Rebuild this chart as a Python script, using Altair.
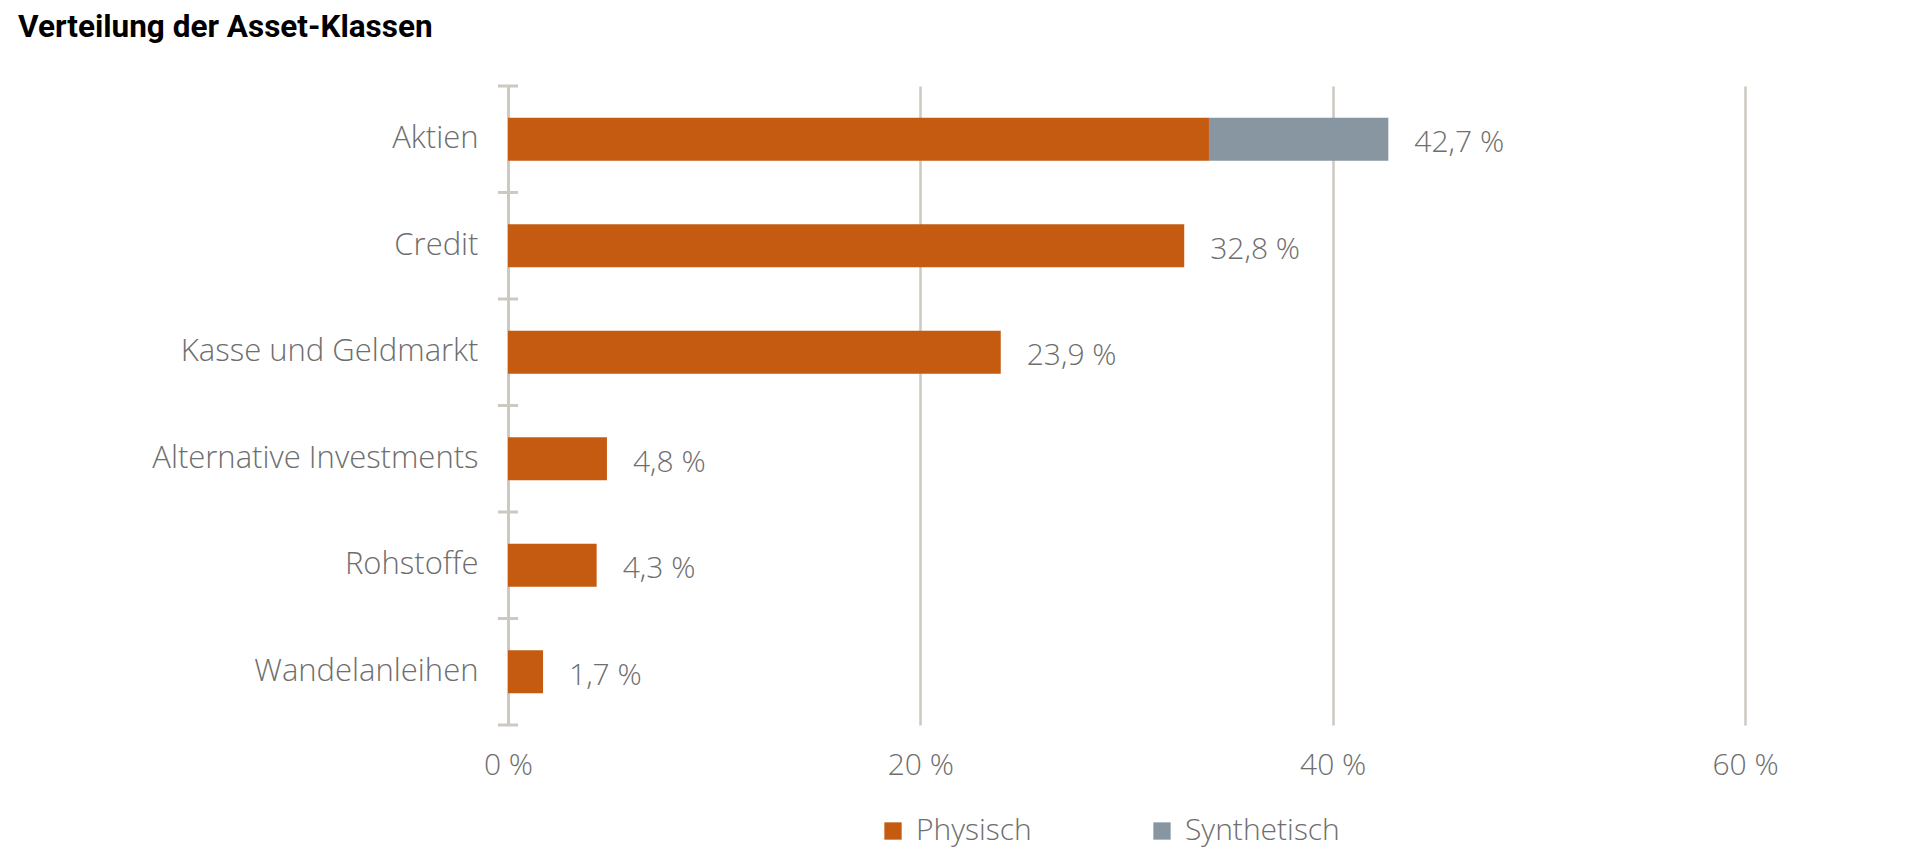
import altair as alt
import pandas as pd

# Asset classes, top to bottom
categories = [
    "Aktien",
    "Credit",
    "Kasse und Geldmarkt",
    "Alternative Investments",
    "Rohstoffe",
    "Wandelanleihen",
]
# Share of the portfolio in percent
physisch = [34.0, 32.8, 23.9, 4.8, 4.3, 1.7]
synthetisch = [8.7, 0.0, 0.0, 0.0, 0.0, 0.0]
series = ["Physisch", "Synthetisch"]
x_ticks = [0, 20, 40, 60]

ORANGE = "#C55A11"
SLATE = "#8796A0"
RULE = "#CDC8C0"
TEXT = "#6E6E6E"
FONT = "Open Sans"
TITLE_FONT = "Roboto"

rows = []
for i, cat in enumerate(categories):
    rows.append({"Kategorie": cat, "Typ": "Physisch", "Wert": physisch[i], "Ord": 0})
    if synthetisch[i] > 0:
        rows.append({"Kategorie": cat, "Typ": "Synthetisch", "Wert": synthetisch[i], "Ord": 1})
bars_df = pd.DataFrame(rows)

totals = [p + s for p, s in zip(physisch, synthetisch)]
labels_df = pd.DataFrame({
    "Kategorie": categories,
    "Summe": totals,
    "Text": [f"{t:.1f}".replace(".", ",") + " %" for t in totals],
})

ticks_df = pd.DataFrame({"Kategorie": categories})
last_df = pd.DataFrame({"Kategorie": categories[-1:]})

y_scale = alt.Scale(type="band", paddingInner=0, paddingOuter=0)

y_enc = alt.Y(
    "Kategorie:N",
    sort=categories,
    scale=y_scale,
    title=None,
    axis=alt.Axis(
        domain=True,
        domainColor=RULE,
        domainWidth=3,
        ticks=False,
        grid=False,
        labelFont=FONT,
        labelFontWeight=300,
        labelFontSize=31,
        labelColor=TEXT,
        labelPadding=30,
        labelLimit=500,
    ),
)

x_enc = alt.X(
    "Wert:Q",
    stack="zero",
    scale=alt.Scale(domain=[0, 60], nice=False),
    title=None,
    axis=alt.Axis(
        values=x_ticks,
        domain=False,
        ticks=False,
        grid=True,
        gridColor=RULE,
        gridWidth=2.5,
        labelExpr="datum.value + ' %'",
        labelFlush=False,
        labelFont=FONT,
        labelFontWeight=300,
        labelFontSize=30,
        labelColor=TEXT,
        labelPadding=25,
    ),
)

bars = alt.Chart(bars_df).mark_bar(size=43).encode(
    x=x_enc,
    y=y_enc,
    color=alt.Color(
        "Typ:N",
        scale=alt.Scale(domain=series, range=[ORANGE, SLATE]),
        legend=alt.Legend(
            title=None,
            orient="none",
            legendX=370,
            legendY=730,
            direction="horizontal",
            symbolType="square",
            symbolSize=300,
            symbolStrokeWidth=0,
            labelFont=FONT,
            labelFontWeight=300,
            labelFontSize=30,
            labelColor=TEXT,
            labelOffset=8,
            columnPadding=115,
        ),
    ),
    order=alt.Order("Ord:Q"),
)

labels = alt.Chart(labels_df).mark_text(
    align="left",
    baseline="middle",
    dx=26,
    dy=4,
    font=FONT,
    fontWeight=300,
    fontSize=30,
    color=TEXT,
).encode(
    x=alt.X("Summe:Q"),
    y=alt.Y("Kategorie:N", sort=categories, scale=y_scale),
    text="Text:N",
)

# Short cross ticks on the category axis at the band boundaries
tick_rules = alt.Chart(ticks_df).mark_rule(color=RULE, strokeWidth=3).encode(
    x=alt.value(-10),
    x2=alt.value(10),
    y=alt.Y("Kategorie:N", sort=categories, scale=y_scale, bandPosition=0),
)
tick_last = alt.Chart(last_df).mark_rule(color=RULE, strokeWidth=3).encode(
    x=alt.value(-10),
    x2=alt.value(10),
    y=alt.Y("Kategorie:N", sort=categories, scale=y_scale, bandPosition=1),
)

chart = (
    alt.layer(bars, labels, tick_rules, tick_last)
    .properties(
        width=1237,
        height=639,
        background="white",
        autosize=alt.AutoSizeParams(type="none"),
        padding={"left": 508, "top": 86, "right": 175, "bottom": 141},
        title=alt.TitleParams(
            "Verteilung der Asset-Klassen",
            anchor="start",
            frame="group",
            font=TITLE_FONT,
            fontSize=31.5,
            fontWeight="bold",
            color="#000000",
            baseline="alphabetic",
            dx=-490,
            offset=16,
        ),
    )
    .configure_view(stroke=None, strokeWidth=0)
)

chart.save("out.html", embed_options={"renderer": "svg", "actions": False})
